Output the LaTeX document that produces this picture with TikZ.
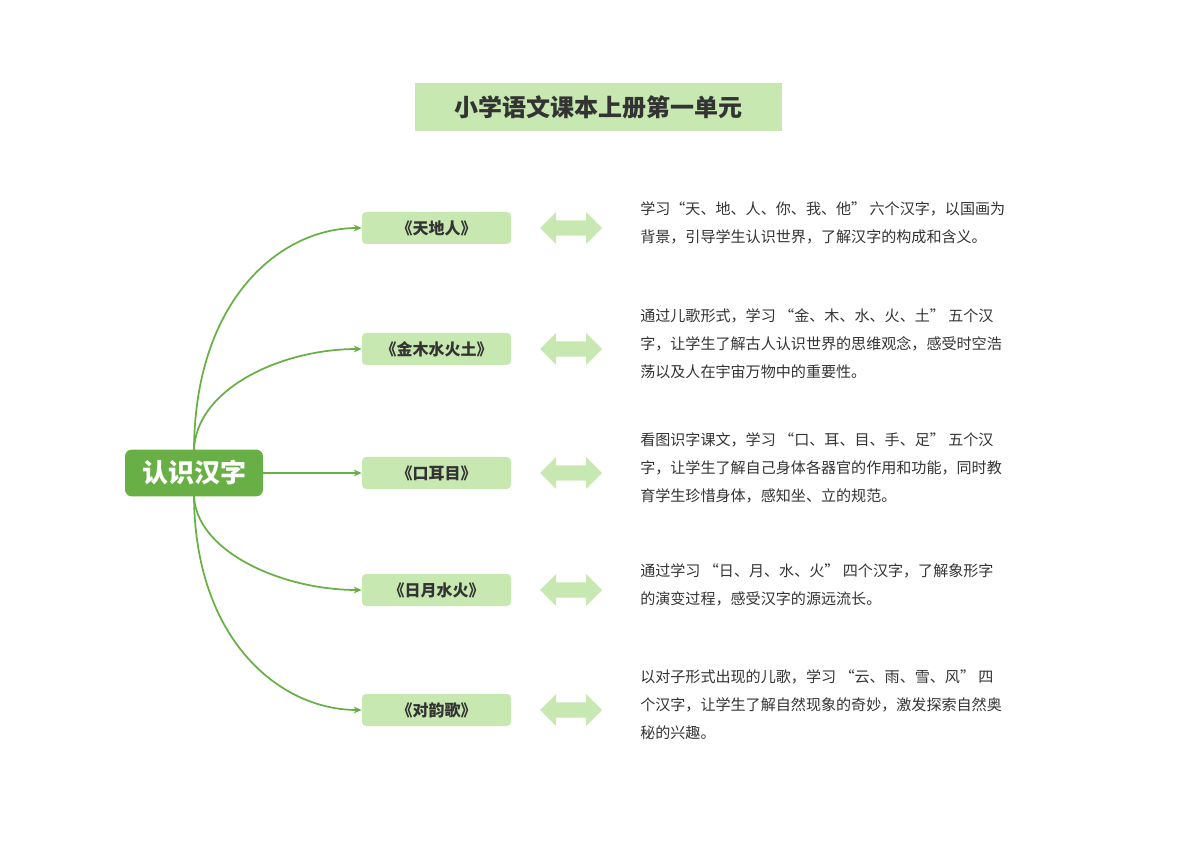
\documentclass[tikz,border=0pt]{standalone}
\usepackage{fontspec}
\setmainfont{Noto Sans CJK SC}
\usetikzlibrary{shapes.arrows,arrows.meta}
\definecolor{lg}{HTML}{C8E8B2}
\definecolor{dg}{HTML}{68B045}
\definecolor{tx}{HTML}{333333}
\tikzset{
 px/.style={x=0.75pt,y=-0.75pt},
 branchbox/.style={fill=lg,rounded corners=3pt,minimum width=111.75pt,minimum height=24pt,font=\fontsize{12}{14}\selectfont\bfseries,text=tx},
 dbl/.style={double arrow,fill=lg,draw=none,minimum width=24pt,minimum height=46.5pt,double arrow head extend=3pt,inner sep=2.5pt},
 desc/.style={anchor=north west,align=left,font=\fontsize{11.3}{21}\selectfont,text=tx,inner sep=0pt},
 conn/.style={draw=dg,line width=1.3pt,-{Stealth[length=6pt,width=5pt]}}
}
\begin{document}
\begin{tikzpicture}[px]
\useasboundingbox (0,0) rectangle (1200,848);
\node[fill=lg,minimum width=275pt,minimum height=36pt,font=\fontsize{18}{20}\selectfont\bfseries,text=tx] (title) at (598.5,107) {小学语文课本上册第一单元};
\node[fill=dg,rounded corners=5pt,minimum width=103.5pt,minimum height=35pt,font=\fontsize{19.5}{22}\selectfont\bfseries,text=white] (root) at (194,473) {认识汉字};
\coordinate (rt) at (194,452);
\coordinate (rb) at (194,494);
\foreach \n/\y/\t in {a/228/《天地人》,b/349/《金木水火土》,c/473/《口耳目》,d/590/《日月水火》,e/710/《对韵歌》}{
 \node[branchbox] (\n) at (436.5,\y) {\t};
 \node[dbl] (\n arr) at (571,\y) {};
}
\draw[conn] (rt) .. controls (194,300) and (280,228) .. (a.west);
\draw[conn] (rt) .. controls (194,390) and (280,349) .. (b.west);
\draw[conn] (root.east) -- (c.west);
\draw[conn] (rb) .. controls (194,550) and (280,590) .. (d.west);
\draw[conn] (rb) .. controls (194,640) and (280,710) .. (e.west);
\node[desc] (ta) at (640,201) {学习“天、地、人、你、我、他” 六个汉字，以国画为\\背景，引导学生认识世界，了解汉字的构成和含义。};
\node[desc] (tb) at (640,308) {通过儿歌形式，学习 “金、木、水、火、土” 五个汉\\字，让学生了解古人认识世界的思维观念，感受时空浩\\荡以及人在宇宙万物中的重要性。};
\node[desc] (tc) at (640,432) {看图识字课文，学习 “口、耳、目、手、足” 五个汉\\字，让学生了解自己身体各器官的作用和功能，同时教\\育学生珍惜身体，感知坐、立的规范。};
\node[desc] (td) at (640,563) {通过学习 “日、月、水、火” 四个汉字，了解象形字\\的演变过程，感受汉字的源远流长。};
\node[desc] (te) at (640,669) {以对子形式出现的儿歌，学习 “云、雨、雪、风” 四\\个汉字，让学生了解自然现象的奇妙，激发探索自然奥\\秘的兴趣。};
\end{tikzpicture}
\end{document}
